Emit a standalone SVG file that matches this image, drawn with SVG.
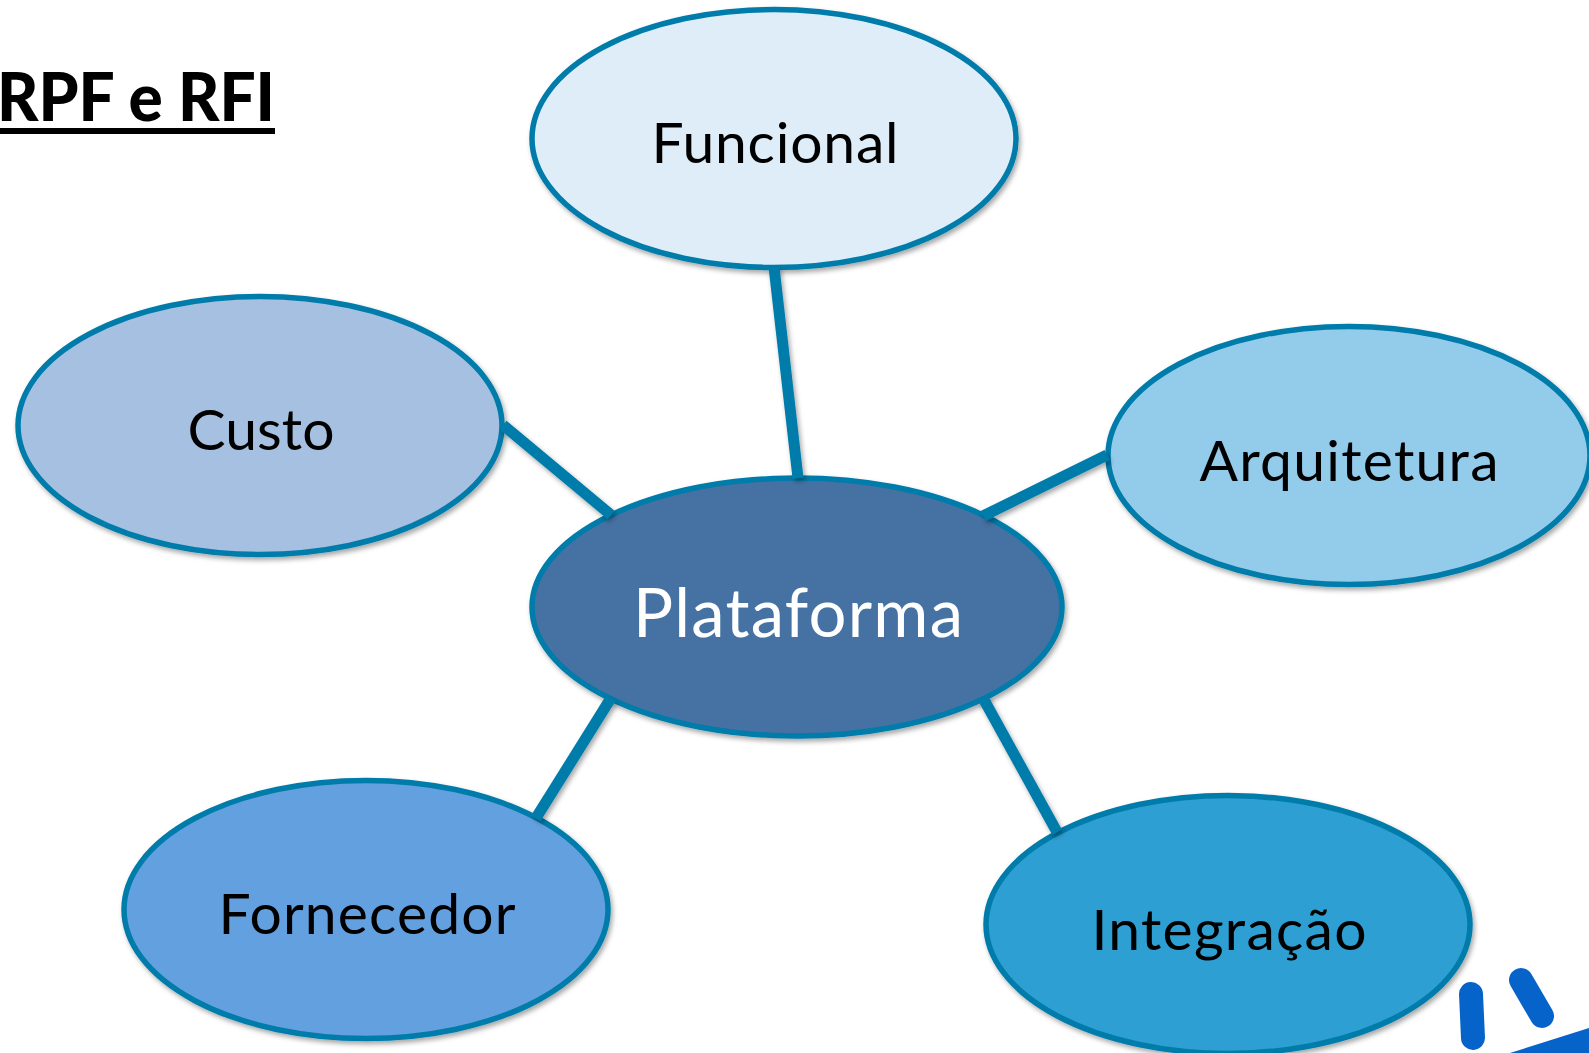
<svg xmlns="http://www.w3.org/2000/svg" width="1589" height="1053" viewBox="0 0 1589 1053">
<style>
.n{stroke:#007bab;stroke-width:5.5;filter:url(#s)}
.c{stroke:#007bab;stroke-width:11;fill:none;filter:url(#s)}
text{font-family:"Lato","Liberation Sans",sans-serif;text-anchor:middle;fill:#000}
.l{font-size:57px}
.p{stroke:#0563c9;stroke-width:24;stroke-linecap:round}
</style>
<defs><filter id="s" filterUnits="userSpaceOnUse" x="0" y="0" width="1589" height="1053"><feDropShadow dx="2" dy="3" stdDeviation="2.5" flood-color="#000" flood-opacity="0.35"/></filter></defs>
<rect width="1589" height="1053" fill="#fff"/>
<g id="funcional"><ellipse class="n" cx="774" cy="138.5" rx="242" ry="129" fill="#deedf8"/><text class="l" x="775" y="163" textLength="247">Funcional</text></g>
<g id="custo"><ellipse class="n" cx="260" cy="425.5" rx="242" ry="129" fill="#a5c0e0"/><text class="l" x="261" y="450" textLength="147">Custo</text></g>
<g id="arquitetura"><ellipse class="n" cx="1349" cy="455.5" rx="241" ry="129" fill="#93cceb"/><text class="l" x="1349" y="481" textLength="299">Arquitetura</text></g>
<g id="plataforma"><ellipse class="n" cx="797" cy="607" rx="265" ry="129" fill="#4572a3"/><text class="l" x="798" y="637" style="fill:#fff;font-size:67px" textLength="330">Plataforma</text></g>
<g id="fornecedor"><ellipse class="n" cx="366" cy="909.5" rx="242" ry="129" fill="#63a0df"/><text class="l" x="367" y="934" textLength="297">Fornecedor</text></g>
<g id="integracao"><ellipse class="n" cx="1228" cy="924.5" rx="242" ry="129" fill="#2d9fd2"/><text class="l" x="1229" y="950" textLength="275">Integração</text></g>
<g id="connectors">
<line class="c" x1="774" y1="267" x2="798" y2="478"/>
<line class="c" x1="503" y1="425" x2="611" y2="515"/>
<line class="c" x1="1107" y1="455" x2="983" y2="516"/>
<line class="c" x1="611" y1="698" x2="536" y2="818"/>
<line class="c" x1="983" y1="698" x2="1057" y2="832"/>
</g>
<text x="-3" y="121" style="text-anchor:start;font-size:66px;font-weight:900" textLength="278" lengthAdjust="spacingAndGlyphs">RPF e RFI</text>
<rect x="0" y="128" width="275" height="6" fill="#000"/>
<line class="p" x1="1471" y1="994" x2="1473" y2="1038"/>
<line class="p" x1="1521" y1="980" x2="1542" y2="1016"/>
<polygon points="1510,1053 1589,1028 1589,1053" fill="#0563c9"/>
</svg>
